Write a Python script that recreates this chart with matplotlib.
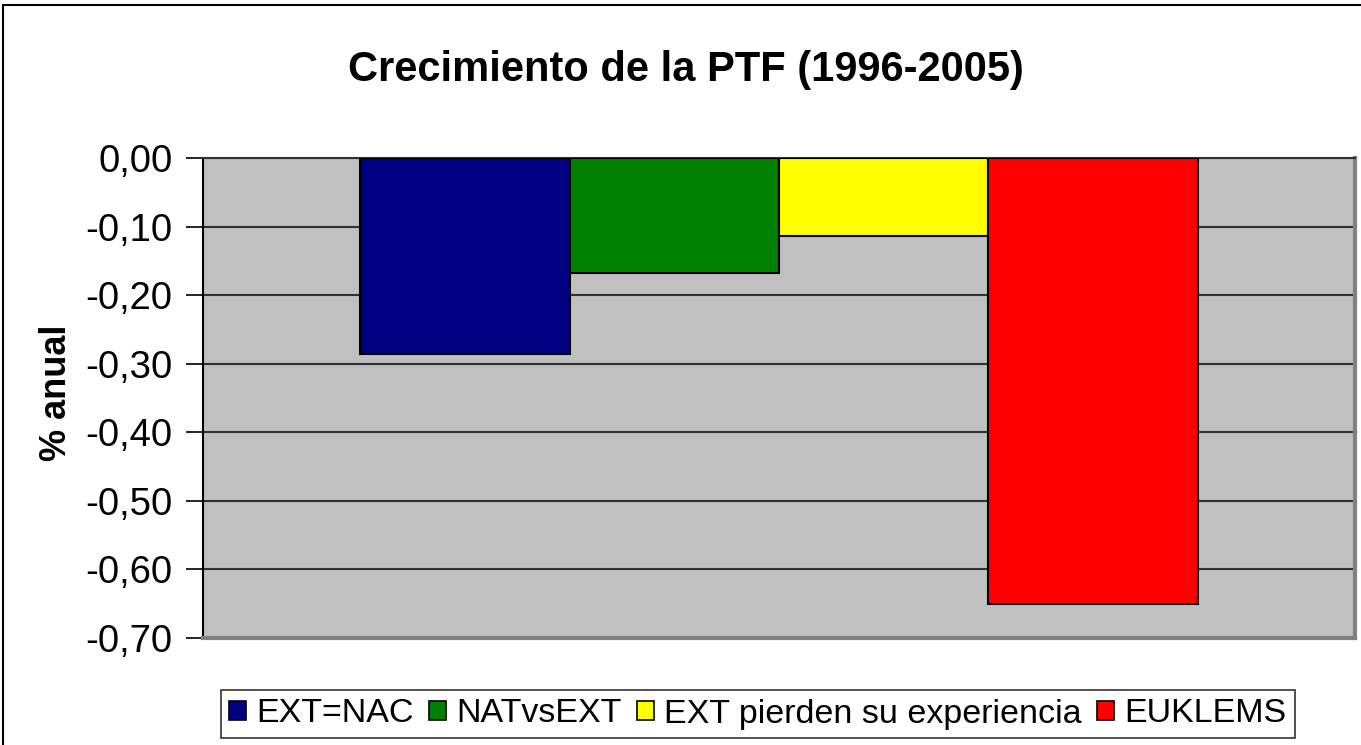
import numpy as np
import matplotlib.pyplot as plt
import matplotlib
from matplotlib.patches import Patch, Rectangle
from matplotlib.ticker import FuncFormatter, MultipleLocator

matplotlib.rcParams['font.family'] = ['Liberation Sans', 'DejaVu Sans']

# datos
series = ['EXT=NAC', 'NATvsEXT', 'EXT pierden su experiencia', 'EUKLEMS']
valores = [-0.286, -0.168, -0.114, -0.650]
colores = ['#000080', '#008000', '#FFFF00', '#FF0000']

fig = plt.figure(figsize=(13.61, 7.45), dpi=100)

# borde del área del gráfico
fig.patches.append(Rectangle((3 / 1361, -0.1), 1.2, 1 - 5 / 745 + 0.1,
                             transform=fig.transFigure, fill=False,
                             edgecolor='black', linewidth=1.5, zorder=0))

ax = fig.add_axes([203 / 1361, 1 - 638 / 745, 1152 / 1361, 480 / 745])
ax.set_facecolor('#C0C0C0')

x = np.arange(len(series))
for i in range(len(series)):
    ax.bar(x[i], valores[i], width=1.0, color=colores[i], edgecolor='black',
           linewidth=1.5, zorder=3, label=series[i])

ax.set_xlim(-1.25, 4.25)
ax.set_ylim(-0.70, 0.0)
ax.yaxis.set_major_locator(MultipleLocator(0.1))
ax.yaxis.set_major_formatter(FuncFormatter(lambda v, p: f"{v:.2f}".replace('.', ',').replace('\u2212', '-')))
ax.grid(axis='y', color='#303030', linewidth=1.5, zorder=1)
ax.set_xticks([])
ax.tick_params(axis='y', direction='out', length=12, width=1.2, labelsize=27.5, pad=10)

ax.spines['left'].set_color('black')
ax.spines['left'].set_linewidth(1.5)
ax.spines['top'].set_color('#303030')
ax.spines['top'].set_linewidth(1.5)
ax.spines['right'].set_color('#808080')
ax.spines['right'].set_linewidth(3)
ax.spines['bottom'].set_color('#808080')
ax.spines['bottom'].set_linewidth(3)

fig.text(686 / 1361, 1 - 70 / 745, 'Crecimiento de la PTF (1996-2005)',
         ha='center', va='center', fontsize=30, fontweight='bold')
fig.text(56 / 1361, 1 - 393 / 745, '% anual', rotation=90, ha='center',
         va='center', fontsize=26, fontweight='bold')

handles = [Patch(facecolor=c, edgecolor='black', linewidth=1.2) for c in colores]
leg = fig.legend(handles, series, loc='center', bbox_to_anchor=(758 / 1361, 1 - 714 / 745),
                 ncol=4, fontsize=24.5, frameon=True, fancybox=False,
                 handlelength=0.5, handleheight=0.5, handletextpad=0.3,
                 columnspacing=0.45, borderpad=0.25, borderaxespad=0)
leg.get_frame().set_edgecolor('black')
leg.get_frame().set_linewidth(1.2)

plt.savefig('out.png', dpi=100)
